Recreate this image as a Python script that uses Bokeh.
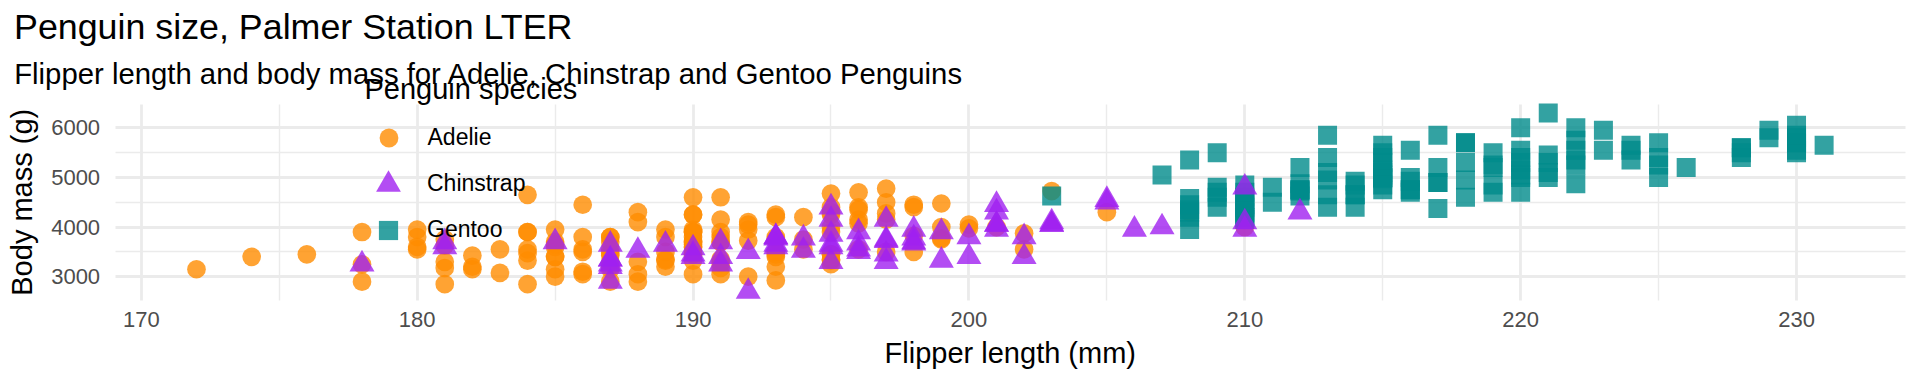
import math
from bokeh.plotting import figure
from bokeh.models import Range1d, FixedTicker, Label, Legend, LegendItem, ColumnDataSource
from bokeh.embed import file_html
from bokeh.resources import INLINE

# ---------------- data (palmer penguins, complete cases) ----------------
species = ["Adelie", "Chinstrap", "Gentoo"]

adelie_flipper = [
    181, 186, 195, 193, 190, 181, 195, 182, 191, 198, 185, 195, 197, 184, 194,
    174, 180, 189, 185, 180, 187, 183, 187, 172, 180,
    178, 178, 188, 184, 195, 196, 190, 180, 181, 184, 182, 195, 186, 196, 185, 190, 182, 190, 191,
    186, 188, 190, 200, 187, 191, 186, 193, 181, 194, 185, 195, 185, 192, 184, 192, 195, 188,
    190, 198, 190, 190, 196, 197, 190, 195, 191, 184, 187, 195, 189, 196, 187, 193,
    191, 194, 190, 189, 189, 190, 202, 205, 185, 186, 187, 208, 190, 196, 178, 192,
    192, 203, 183, 190, 193, 184, 199, 190, 181, 197, 198, 191, 193, 197, 191, 196,
    188, 199, 189, 189, 187, 198, 176, 202, 186, 199, 191, 195, 191, 210, 190, 197,
    193, 199, 187, 190, 191, 200, 185, 193, 193, 187, 188, 190, 192, 185, 190, 184, 195, 193, 187, 201,
]
adelie_mass = [
    3750, 3800, 3250, 3450, 3650, 3625, 4675, 3200, 3800, 4400, 3700, 3450, 4500, 3325, 4200,
    3400, 3600, 3800, 3950, 3800, 3800, 3550, 3200, 3150, 3950,
    3250, 3900, 3300, 3900, 3325, 4150, 3950, 3550, 3300, 4650, 3150, 3900, 3100, 4400, 3000, 4600, 3425, 3450, 4150,
    3500, 4300, 3450, 4050, 2900, 3700, 3550, 3800, 2850, 3750, 3150, 4400, 3600, 4050, 2850, 3950, 3350, 4100,
    3050, 4450, 3600, 3900, 3550, 4150, 3700, 4250, 3700, 3900, 3550, 4000, 3200, 4700, 3800, 4200,
    3350, 3550, 3800, 3500, 3950, 3600, 3550, 4300, 3400, 4450, 3300, 4300, 3700, 4350, 2900, 4100,
    3725, 4725, 3075, 4250, 2925, 3550, 3750, 3900, 3175, 4775, 3825, 4600, 3200, 4275, 3900, 4075,
    2900, 3775, 3350, 3325, 3150, 3500, 3450, 3875, 3050, 4000, 3275, 4300, 3050, 4000, 3325, 3500,
    3500, 4475, 3425, 3900, 3175, 3975, 3400, 4250, 3400, 3475, 3050, 3725, 3000, 3650, 4250, 3475, 3450, 3750, 3700, 4000,
]

chinstrap_flipper = [
    192, 196, 193, 188, 197, 198, 178, 197, 195, 198, 193, 194, 185, 201, 190, 201, 197,
    181, 190, 195, 181, 191, 187, 193, 195, 197, 200, 200, 191, 205, 187, 201, 187, 203,
    195, 199, 195, 210, 192, 205, 210, 187, 196, 196, 196, 201, 190, 212, 187, 198, 199,
    201, 193, 203, 187, 197, 191, 203, 202, 194, 206, 189, 195, 207, 202, 193, 210, 198,
]
chinstrap_mass = [
    3500, 3900, 3650, 3525, 3725, 3950, 3250, 3750, 4150, 3700, 3800, 3775, 3700, 4050, 3575, 4050, 3300,
    3700, 3450, 4400, 3600, 3400, 2900, 3800, 3300, 4150, 3400, 3800, 3700, 4550, 3200, 4300, 3350, 4100,
    3600, 3900, 3850, 4800, 2700, 4500, 3950, 3650, 3550, 3500, 3675, 4450, 3400, 4300, 3250, 3675, 3325,
    3950, 3600, 4050, 3350, 3450, 3250, 4050, 3800, 3525, 3950, 3650, 3650, 4000, 3400, 3775, 4100, 3775,
]

gentoo_flipper = [
    211, 230, 210, 218, 215, 210, 211, 219, 209, 215, 214, 216, 214, 213, 210, 217, 210, 221, 209, 222,
    218, 215, 213, 215, 215, 215, 215, 210, 220, 222, 209, 207, 230, 220, 220, 213, 219, 208, 208,
    208, 225, 210, 216, 222, 217, 210, 225, 213, 215, 210, 220, 210, 225, 217, 220, 208, 220, 208, 224,
    208, 221, 214, 231, 219, 230, 229, 220, 223, 216, 221, 221, 217, 216, 230, 209, 220, 215, 223,
    212, 221, 212, 224, 212, 228, 218, 218, 212, 230, 218, 228, 212, 224, 214, 226, 216, 222, 203, 225,
    219, 228, 215, 228, 215, 210, 219, 208, 209, 216, 229, 213, 230, 217, 230, 222, 214, 215, 222, 212, 213,
]
gentoo_mass = [
    4500, 5700, 4450, 5700, 5400, 4550, 4800, 5200, 4400, 5150, 4650, 5550, 4650, 5850, 4200, 5850, 4150, 6300, 4800, 5350,
    5700, 5000, 4400, 5050, 5000, 5100, 5650, 4600, 5550, 5250, 4700, 5050, 6050, 5150, 5400, 4950, 5250, 4350, 5350,
    3950, 5700, 4300, 4750, 5550, 4900, 4200, 5400, 5100, 5300, 4850, 5300, 4400, 5000, 4900, 5050, 4300, 5000, 4450, 5550,
    4200, 5300, 4400, 5650, 4700, 5700, 5800, 4700, 5550, 4750, 5000, 5100, 5200, 4700, 5800, 4600, 6000, 4750, 5950,
    4625, 5450, 4725, 5350, 4750, 5600, 4600, 5300, 4875, 5550, 4950, 5400, 4750, 5650, 4850, 5200, 4925, 4875, 4625, 5250,
    4850, 5600, 4975, 5500, 5500, 4700, 5500, 4575, 5500, 5000, 5950, 4650, 5500, 4375, 5850, 6000, 4925, 4850, 5750, 5200, 5400,
]

x_ticks = [170, 180, 190, 200, 210, 220, 230]
x_minor_ticks = [175, 185, 195, 205, 215, 225]
y_ticks = [3000, 4000, 5000, 6000]
y_minor_ticks = [3500, 4500, 5500]

title_text = "Penguin size, Palmer Station LTER"
subtitle_text = "Flipper length and body mass for Adelie, Chinstrap and Gentoo Penguins"
x_title = "Flipper length (mm)"
y_title = "Body mass (g)"
legend_title = "Penguin species"

# ---------------- styles / geometry ----------------
FONT = "Liberation Sans"
colors = {"Adelie": "#FF8C00", "Chinstrap": "#A020F0", "Gentoo": "#008B8B"}
markers = {"Adelie": "circle", "Chinstrap": "triangle", "Gentoo": "square"}
sizes = {"Adelie": 18.7, "Chinstrap": 25, "Gentoo": 19}
# legend key centres (canvas px from top-left)
key_centre = {"Adelie": (388, 137.3), "Chinstrap": (388, 183.6), "Gentoo": (388, 229.8)}
LEGEND_LABEL_X = 427

W, H = 1912, 376
PANEL_L, PANEL_R, PANEL_T, PANEL_B = 114.6, 1905.0, 103.5, 300.0
MID = 0.3465  # em offset from alphabetic baseline to middle of the text box

all_x = adelie_flipper + chinstrap_flipper + gentoo_flipper
all_y = adelie_mass + chinstrap_mass + gentoo_mass
xpad = 0.05 * (max(all_x) - min(all_x))
ypad = 0.05 * (max(all_y) - min(all_y))
x_lo, x_hi = min(all_x) - xpad, max(all_x) + xpad
y_lo, y_hi = min(all_y) - ypad, max(all_y) + ypad

# the plotting frame covers the whole canvas; the data panel sits inside it
sx = (PANEL_R - PANEL_L) / (x_hi - x_lo)
sy = (PANEL_B - PANEL_T) / (y_hi - y_lo)
x_range = Range1d(x_lo - PANEL_L / sx, x_hi + (W - PANEL_R) / sx)
y_range = Range1d(y_lo - (H - PANEL_B) / sy, y_hi + PANEL_T / sy)

p = figure(
    width=W, height=H, output_backend="svg", toolbar_location=None,
    x_range=x_range, y_range=y_range,
    min_border_left=0, min_border_right=0, min_border_top=0, min_border_bottom=0,
    background_fill_color="white", border_fill_color="white",
)
p.outline_line_color = None
p.title.visible = False

xt = FixedTicker(ticks=x_ticks, minor_ticks=x_minor_ticks)
yt = FixedTicker(ticks=y_ticks, minor_ticks=y_minor_ticks)
p.xaxis.ticker = xt
p.yaxis.ticker = yt
p.xaxis.fixed_location = y_lo
p.yaxis.fixed_location = x_lo

for ax, standoff in ((p.xaxis, 7), (p.yaxis, 11)):
    ax.axis_line_color = None
    ax.major_tick_line_color = None
    ax.minor_tick_line_color = None
    ax.major_tick_out = 0
    ax.major_tick_in = 0
    ax.major_label_standoff = standoff
    ax.major_label_text_font = FONT
    ax.major_label_text_font_size = "22px"
    ax.major_label_text_color = "#4D4D4D"

p.xgrid.ticker = xt
p.ygrid.ticker = yt
use_grid = True
try:
    p.xgrid.cross_bounds = (y_lo, y_hi)
    p.ygrid.cross_bounds = (x_lo, x_hi)
    p.xgrid.bounds = (x_lo, x_hi)
    p.ygrid.bounds = (y_lo, y_hi)
except Exception:
    use_grid = False

if use_grid:
    for g in (p.xgrid, p.ygrid):
        g.grid_line_color = "#EBEBEB"
        g.grid_line_width = 2.8
        g.minor_grid_line_color = "#EBEBEB"
        g.minor_grid_line_width = 1.4
else:
    for g in (p.xgrid, p.ygrid):
        g.visible = False
    p.segment(x0=x_minor_ticks, x1=x_minor_ticks, y0=y_lo, y1=y_hi, line_color="#EBEBEB", line_width=1.4)
    p.segment(x0=x_lo, x1=x_hi, y0=y_minor_ticks, y1=y_minor_ticks, line_color="#EBEBEB", line_width=1.4)
    p.segment(x0=x_ticks, x1=x_ticks, y0=y_lo, y1=y_hi, line_color="#EBEBEB", line_width=2.8)
    p.segment(x0=x_lo, x1=x_hi, y0=y_ticks, y1=y_ticks, line_color="#EBEBEB", line_width=2.8)

data = {
    "Adelie": (adelie_flipper, adelie_mass),
    "Chinstrap": (chinstrap_flipper, chinstrap_mass),
    "Gentoo": (gentoo_flipper, gentoo_mass),
}
renderers = {}
for sp in ["Adelie", "Gentoo", "Chinstrap"]:  # dataset row order
    fx, fy = data[sp]
    src = ColumnDataSource(dict(flipper=fx, mass=fy))
    renderers[sp] = p.scatter(
        "flipper", "mass", source=src, marker=markers[sp], size=sizes[sp],
        fill_color=colors[sp], fill_alpha=0.8, line_color=None,
    )

# one legend block per key so that each key keeps its own marker size
# (bokeh draws a legend marker at 0.4 x the glyph box)
for i, sp in enumerate(species):
    box = int(round(sizes[sp] / 0.4))
    cx, cy = key_centre[sp]
    left, bottom = cx - box / 2, cy + box / 2
    kw = {}
    if i == 0:
        kw = dict(title=legend_title, title_text_font=FONT, title_text_font_size="29px",
                  title_text_font_style="normal", title_text_color="black", title_standoff=8)
    p.add_layout(Legend(
        items=[LegendItem(label=sp, renderers=[renderers[sp]])],
        location=(left, H - bottom),
        glyph_width=box, glyph_height=box,
        label_standoff=int(round(LEGEND_LABEL_X - (left + box))),
        spacing=0, padding=0, margin=0,
        background_fill_alpha=0, border_line_color=None,
        label_text_font=FONT, label_text_font_size="23px", label_text_color="black",
        **kw,
    ))


def add_text(text, x, y_baseline, size, align="left", angle=0.0):
    """x, y_baseline in canvas pixels from the top-left; baseline converted to text-box middle."""
    if angle:
        xm, ym = x - MID * size, y_baseline
    else:
        xm, ym = x, y_baseline - MID * size
    p.add_layout(Label(x=xm, y=H - ym, x_units="screen", y_units="screen", text=text,
                       angle=angle, text_font=FONT, text_font_size=f"{size}px", text_color="black",
                       text_align=align, text_baseline="middle"))


add_text(title_text, 13.5, 39.3, 35.8)
add_text(subtitle_text, 13.7, 82.7, 29.3)
add_text(x_title, (PANEL_L + PANEL_R) / 2, 363, 29, align="center")
add_text(y_title, 31.5, (PANEL_T + PANEL_B) / 2, 29, align="center", angle=math.pi / 2)

open("out.html", "w").write(file_html(p, INLINE))
